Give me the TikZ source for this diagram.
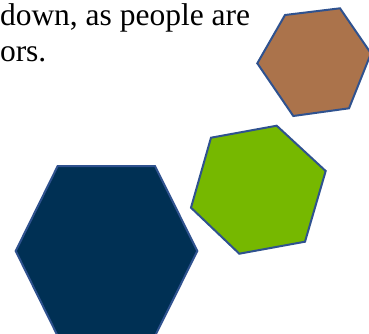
\documentclass[tikz,border=0pt]{standalone}
\usepackage{fontspec}
\setmainfont{Liberation Serif}
\definecolor{hexbrown}{RGB}{171,115,75}
\definecolor{hexgreen}{RGB}{118,184,0}
\definecolor{hexnavy}{RGB}{0,48,84}
\definecolor{hexline}{RGB}{47,82,143}
\tikzset{
  hexshape/.style={draw=hexline, line width=2pt, line join=miter},
  bodytext/.style={anchor=base west, inner sep=0pt, outer sep=0pt, font=\fontsize{31.5}{37}\selectfont}
}
\begin{document}
\begin{tikzpicture}[x=1pt,y=-1pt]
\useasboundingbox (0,0) rectangle (369,333);
\clip (0,0) rectangle (369,333);
\node[bodytext] (line1) at (0,25) {down, as people are};
\node[bodytext] (line2) at (0,61.5) {ors.};
% brown hexagon
\path[hexshape, fill=hexbrown] (285,15) -- (340,8.3) -- (371,53.4) -- (349,108.3) -- (293.3,116) -- (257.3,63.3) -- cycle;
% green hexagon
\path[hexshape, fill=hexgreen] (211,137.7) -- (276.7,125.7) -- (325.7,171) -- (305,241.7) -- (239.3,253.7) -- (191,207.7) -- cycle;
% navy hexagon
\path[hexshape, fill=hexnavy] (57.7,166) -- (155,166) -- (197.3,251) -- (155,336) -- (57.7,336) -- (15.7,251) -- cycle;
\end{tikzpicture}
\end{document}
